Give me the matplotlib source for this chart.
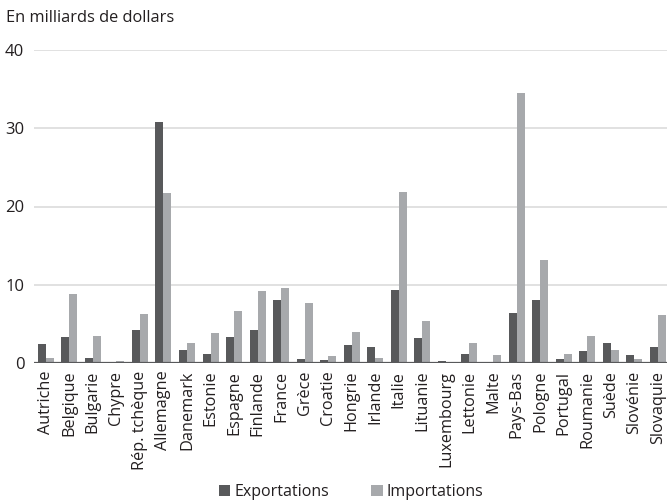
import matplotlib
matplotlib.use("Agg")
import matplotlib.pyplot as plt
import numpy as np

plt.rcParams['font.family'] = ['Open Sans', 'DejaVu Sans']

# pays
pays = ['Autriche', 'Belgique', 'Bulgarie', 'Chypre', 'Rép. tchèque', 'Allemagne',
        'Danemark', 'Estonie', 'Espagne', 'Finlande', 'France', 'Grèce', 'Croatie',
        'Hongrie', 'Irlande', 'Italie', 'Lituanie', 'Luxembourg', 'Lettonie', 'Malte',
        'Pays-Bas', 'Pologne', 'Portugal', 'Roumanie', 'Suède', 'Slovénie', 'Slovaquie']

# en milliards de dollars
exportations = [2.4, 3.3, 0.6, 0.1, 4.2, 30.8, 1.6, 1.2, 3.3, 4.2, 8.1, 0.5, 0.35,
                2.3, 2.0, 9.3, 3.2, 0.2, 1.1, 0.1, 6.4, 8.1, 0.45, 1.5, 2.6, 1.0, 2.1]
importations = [0.6, 8.8, 3.4, 0.2, 6.2, 21.7, 2.6, 3.8, 6.6, 9.2, 9.6, 7.7, 0.9,
                3.9, 0.6, 21.9, 5.4, 0.1, 2.6, 1.0, 34.5, 13.1, 1.1, 3.5, 1.6, 0.5, 6.1]

dark = '#58595b'
light = '#a7a9ac'
txt = '#231f20'

fig = plt.figure(figsize=(6.67, 5.03), dpi=100)
ax = fig.add_axes([34 / 667, 140 / 503, 633 / 667, 313 / 503])

x = np.arange(len(pays))
w = 0.34
ax.bar(x - w / 2, exportations, w, color=dark, zorder=3, label='Exportations')
ax.bar(x + w / 2, importations, w, color=light, zorder=3, label='Importations')

ax.set_ylim(0, 40)
ax.set_xlim(-0.5, -0.5 + 633 / 23.54)
ax.set_yticks([0, 10, 20, 30, 40])
ax.yaxis.grid(True, color='#dcdcdc', linewidth=1.2, zorder=0)
ax.axhline(0, color=dark, linewidth=1.6, zorder=4)

for s in ax.spines.values():
    s.set_visible(False)

ax.set_xticks(x)
ax.set_xticklabels(pays, rotation=90)
ax.tick_params(axis='both', length=0, labelsize=12, colors=txt)
ax.tick_params(axis='x', pad=5.5, labelsize=11.7)
ax.tick_params(axis='y', pad=7)

fig.text(6 / 667, 1 - 18 / 503, 'En milliards de dollars', fontsize=11.8,
         va='center', ha='left', color=txt)

fig.legend(loc='center', bbox_to_anchor=(351 / 667, 1 - 492 / 503), ncol=2,
           frameon=False, fontsize=11.5, handlelength=0.75, handleheight=0.75,
           handletextpad=0.25, columnspacing=2.6, labelcolor=txt)

fig.savefig('out.png', dpi=100)
